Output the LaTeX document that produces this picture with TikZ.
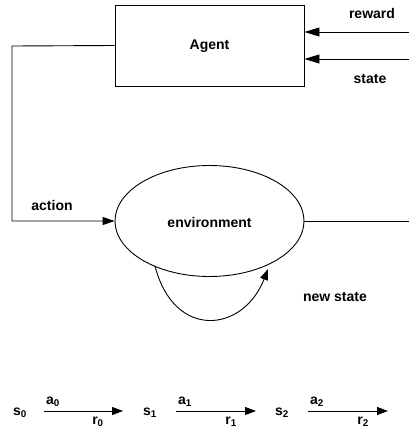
\documentclass[tikz,border=0pt]{standalone}
\usepackage{fontspec}
\setmainfont{Liberation Sans}
\usetikzlibrary{shapes.geometric,arrows.meta}
\begin{document}
\begin{tikzpicture}[x=1pt,y=-1pt,
  lbl/.style={font=\fontsize{14}{16}\selectfont\bfseries, inner sep=0pt},
  ln/.style={line width=0.9pt},
  bigtip/.style={-{Triangle[length=15pt,width=9pt]}},
  midtip/.style={-{Triangle[length=12pt,width=8pt]}},
  smalltip/.style={-{Triangle[length=11pt,width=8pt]}}]
\useasboundingbox (0,0) rectangle (409,434);
\node[draw, ln, rectangle, minimum width=189pt, minimum height=81pt, inner sep=0pt] (agent) at (209.5,45.5) {};
\node[lbl] at (209.5,46) {Agent};
\node[draw, ln, ellipse, minimum width=189pt, minimum height=111pt, inner sep=0pt] (env) at (209.5,221) {};
\node[lbl] at (209.5,222) {environment};
% incoming arrows to agent
\coordinate (rin) at (409,32);
\coordinate (sin) at (409,59);
\draw[ln, bigtip] (rin) -- (rin -| agent.east);
\draw[ln, bigtip] (sin) -- (sin -| agent.east);
\node[lbl] (lreward) at (372,13) {reward};
\node[lbl] (lstate) at (370,79) {state};
% action loop
\coordinate (c1) at (12,46);
\coordinate (c2) at (12,221);
\draw[ln, midtip] (agent.west) -- (c1) -- (c2) -- (env.west);
\node[lbl] (laction) at (52,205) {action};
% env right line
\coordinate (eout) at (409,221);
\draw[ln] (env.east) -- (eout);
% new state loop
\coordinate (ls) at (155,266);
\coordinate (le) at (268,269);
\draw[ln, smalltip] (ls) .. controls (174,340) and (243,333) .. (le);
\node[lbl] (lnew) at (335,297) {new state};
% bottom sequence
\node[lbl] (s0) at (20,413) {s\textsubscript{0}};
\node[lbl] (s1) at (150,413) {s\textsubscript{1}};
\node[lbl] (s2) at (282,413) {s\textsubscript{2}};
\coordinate (a0s) at (44,411); \coordinate (a0e) at (123,411);
\coordinate (a1s) at (176,411); \coordinate (a1e) at (256,411);
\coordinate (a2s) at (308,411); \coordinate (a2e) at (388,411);
\draw[ln, smalltip] (a0s) -- (a0e);
\draw[ln, smalltip] (a1s) -- (a1e);
\draw[ln, smalltip] (a2s) -- (a2e);
\node[lbl] (ta0) at (53,402) {a\textsubscript{0}};
\node[lbl] (ta1) at (185,402) {a\textsubscript{1}};
\node[lbl] (ta2) at (317,402) {a\textsubscript{2}};
\node[lbl] (tr0) at (98,422) {r\textsubscript{0}};
\node[lbl] (tr1) at (231,422) {r\textsubscript{1}};
\node[lbl] (tr2) at (363,422) {r\textsubscript{2}};
\end{tikzpicture}
\end{document}
